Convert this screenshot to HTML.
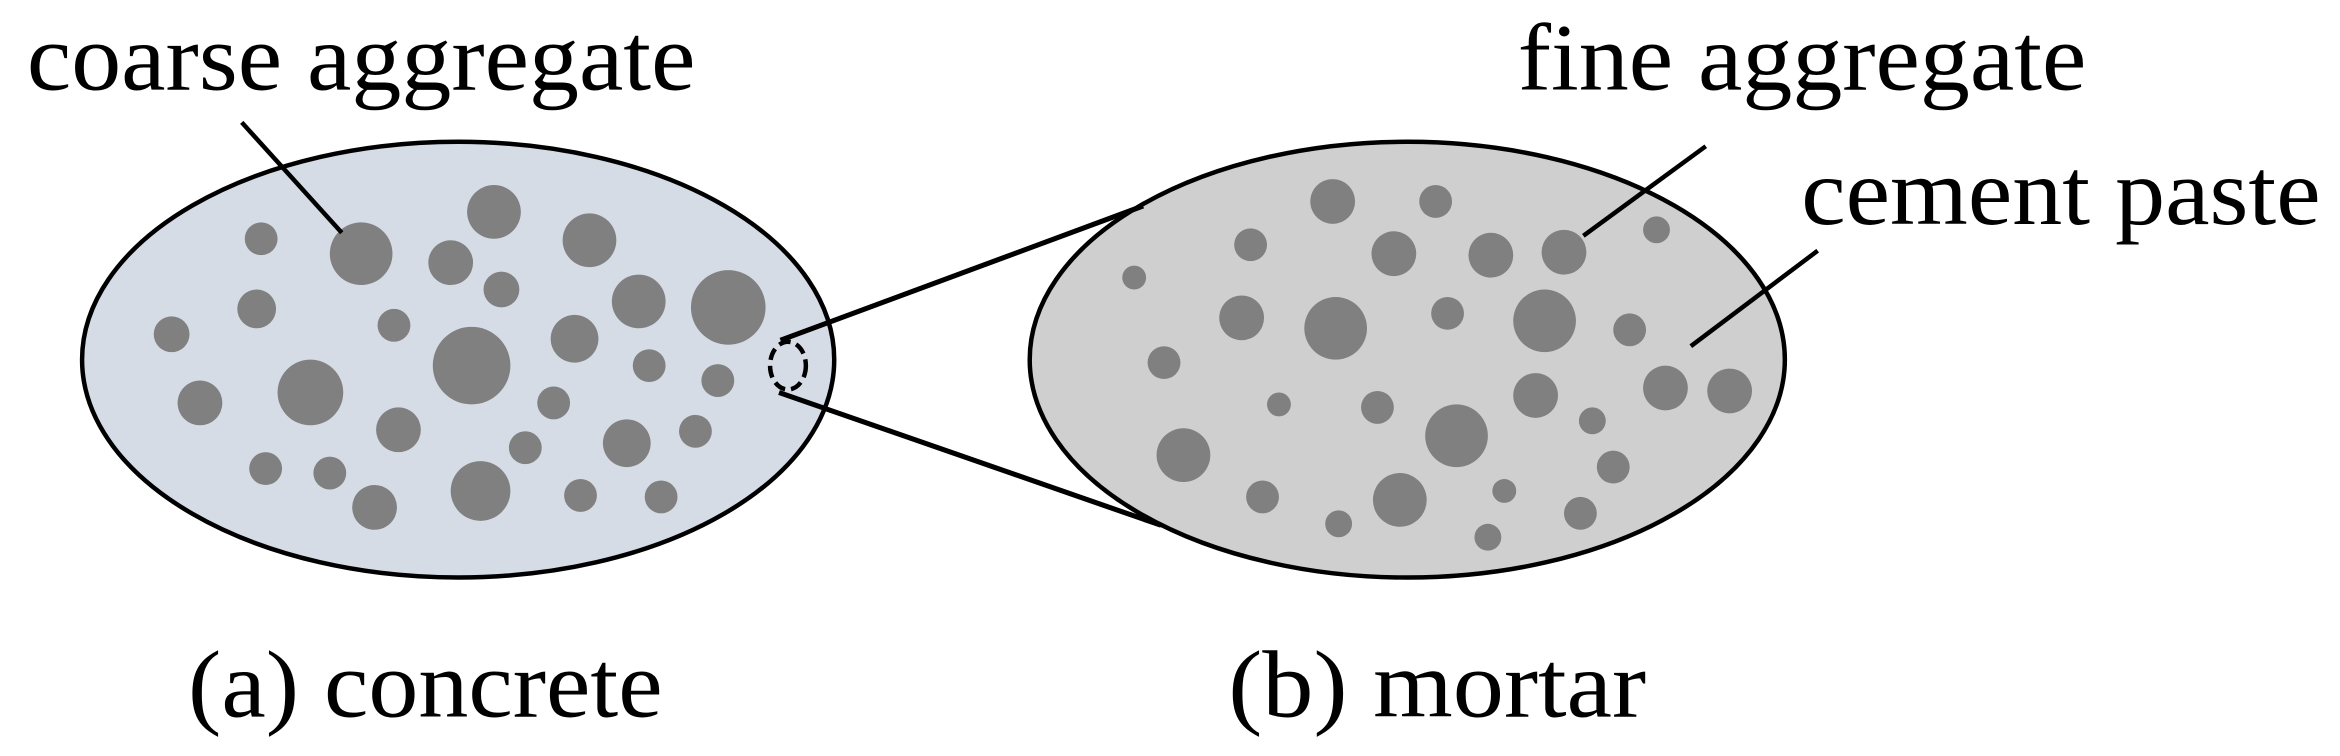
<!DOCTYPE html>
<html><head><meta charset="utf-8"><style>html,body{margin:0;padding:0;background:#fff;overflow:hidden}svg{display:block}text{font-family:"Liberation Serif","Times New Roman",serif}</style></head>
<body>
<svg width="2340" height="756" viewBox="0 0 1568 506.6" preserveAspectRatio="none" xmlns="http://www.w3.org/2000/svg">
<g font-size="64" fill="#000">
<text x="18" y="60" textLength="448" lengthAdjust="spacingAndGlyphs">coarse aggregate</text>
<text x="1017" y="60" textLength="381" lengthAdjust="spacingAndGlyphs">fine aggregate</text>
<text x="1207" y="150" textLength="348" lengthAdjust="spacingAndGlyphs">cement paste</text>
<text x="126" y="480" textLength="318" lengthAdjust="spacingAndGlyphs">(a) concrete</text>
<text x="823" y="480" textLength="280" lengthAdjust="spacingAndGlyphs">(b) mortar</text>
</g>
<ellipse cx="307" cy="241" rx="252" ry="146" fill="#d5dce6" stroke="#000" stroke-width="3"/>
<ellipse cx="943" cy="241" rx="253" ry="146" fill="#d0cfd0" stroke="#000" stroke-width="3"/>
<g fill="#808080">
<circle cx="175" cy="160" r="11"/><circle cx="242" cy="170" r="21"/><circle cx="331" cy="142" r="18"/><circle cx="395" cy="161" r="18"/><circle cx="302" cy="176" r="15"/><circle cx="336" cy="194" r="12"/><circle cx="172" cy="207" r="13"/><circle cx="428" cy="202" r="18"/><circle cx="488" cy="206" r="25"/><circle cx="115" cy="224" r="12"/><circle cx="264" cy="218" r="11"/><circle cx="385" cy="227" r="16"/><circle cx="316" cy="245" r="26"/><circle cx="208" cy="263" r="22"/><circle cx="435" cy="245" r="11"/><circle cx="481" cy="255" r="11"/><circle cx="134" cy="270" r="15"/><circle cx="371" cy="270" r="11"/><circle cx="267" cy="288" r="15"/><circle cx="420" cy="297" r="16"/><circle cx="466" cy="289" r="11"/><circle cx="352" cy="300" r="11"/><circle cx="178" cy="314" r="11"/><circle cx="221" cy="317" r="11"/><circle cx="322" cy="329" r="20"/><circle cx="251" cy="340" r="15"/><circle cx="389" cy="332" r="11"/><circle cx="443" cy="333" r="11"/>
<circle cx="893" cy="135" r="15"/><circle cx="962" cy="135" r="11"/><circle cx="838" cy="164" r="11"/><circle cx="934" cy="170" r="15"/><circle cx="999" cy="171" r="15"/><circle cx="1048" cy="169" r="15"/><circle cx="1110" cy="154" r="9"/><circle cx="760" cy="186" r="8"/><circle cx="832" cy="213" r="15"/><circle cx="895" cy="220" r="21"/><circle cx="970" cy="210" r="11"/><circle cx="1035" cy="215" r="21"/><circle cx="1092" cy="221" r="11"/><circle cx="780" cy="243" r="11"/><circle cx="1029" cy="265" r="15"/><circle cx="1116" cy="260" r="15"/><circle cx="1159" cy="262" r="15"/><circle cx="857" cy="271" r="8"/><circle cx="923" cy="273" r="11"/><circle cx="976" cy="292" r="21"/><circle cx="1067" cy="282" r="9"/><circle cx="793" cy="305" r="18"/><circle cx="1081" cy="313" r="11"/><circle cx="846" cy="333" r="11"/><circle cx="938" cy="335" r="18"/><circle cx="1008" cy="329" r="8"/><circle cx="897" cy="351" r="9"/><circle cx="1059" cy="344" r="11"/><circle cx="997" cy="360" r="9"/>
</g>
<ellipse cx="528" cy="245" rx="12" ry="16" fill="none" stroke="#000" stroke-width="3" stroke-dasharray="8 4"/>
<g stroke="#000" stroke-width="3" fill="none">
<line x1="523" y1="228" x2="766" y2="138" stroke-width="3.4"/>
<line x1="522" y1="263" x2="778" y2="352" stroke-width="3.4"/>
<line x1="162" y1="82" x2="229" y2="156"/>
<line x1="1143" y1="98" x2="1061" y2="158"/>
<line x1="1218" y1="168" x2="1133" y2="232"/>
</g>
</svg>
</body></html>
